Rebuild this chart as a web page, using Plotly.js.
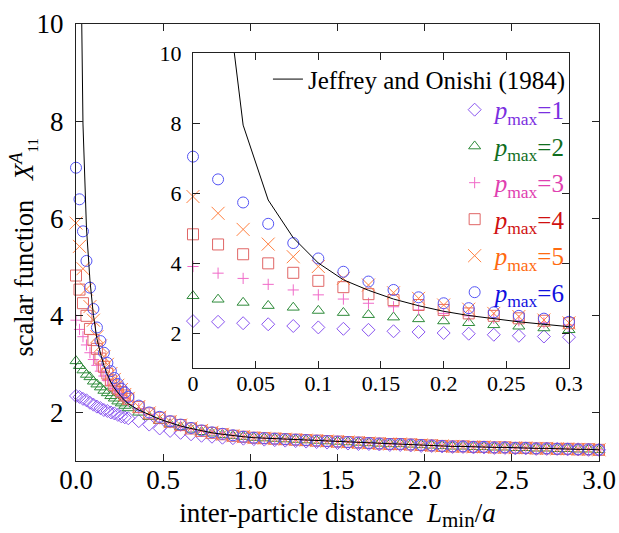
<!DOCTYPE html>
<html>
<head>
<meta charset="utf-8">
<script src="https://cdn.plot.ly/plotly-3.0.1.min.js"></script>
<style>
html,body{margin:0;padding:0;background:#fff;}
#chart{width:619px;height:533px;}
#chart svg text{font-family:"Liberation Serif","Times New Roman",serif !important;}
</style>
</head>
<body>
<div id="chart"></div>
<script>
// x positions (L_min / a)
const xDense = [0, 0.02, 0.04, 0.06, 0.08, 0.10, 0.12, 0.14, 0.16, 0.18, 0.20, 0.22, 0.24, 0.26, 0.28, 0.30];
const xWide = [0.36, 0.42, 0.48, 0.54, 0.60, 0.66, 0.72, 0.78, 0.84, 0.90, 0.96, 1.02, 1.08, 1.14, 1.20,
  1.26, 1.32, 1.38, 1.44, 1.50, 1.56, 1.62, 1.68, 1.74, 1.80, 1.86, 1.92, 1.98, 2.04, 2.10,
  2.16, 2.22, 2.28, 2.34, 2.40, 2.46, 2.52, 2.58, 2.64, 2.70, 2.76, 2.82, 2.88, 2.94, 3.00];

// scalar function X^A_11 for each p_max (dense part 0..0.3)
const p1Dense = [2.34, 2.32, 2.28, 2.25, 2.20, 2.16, 2.12, 2.09, 2.05, 2.03, 2.00, 1.98, 1.95, 1.92, 1.90, 1.88];
const p2Dense = [3.06, 2.96, 2.87, 2.78, 2.73, 2.64, 2.58, 2.52, 2.45, 2.40, 2.34, 2.29, 2.23, 2.19, 2.14, 2.09];
const p3Dense = [3.90, 3.71, 3.56, 3.39, 3.23, 3.09, 2.97, 2.85, 2.75, 2.66, 2.56, 2.49, 2.42, 2.35, 2.29, 2.23];
const p4Dense = [4.82, 4.53, 4.25, 3.99, 3.72, 3.49, 3.31, 3.11, 2.94, 2.80, 2.66, 2.56, 2.49, 2.42, 2.35, 2.28];
const p5Dense = [5.90, 5.42, 4.96, 4.54, 4.18, 3.90, 3.56, 3.37, 3.15, 2.99, 2.80, 2.68, 2.56, 2.47, 2.37, 2.29];
const p6Dense = [7.04, 6.39, 5.73, 5.12, 4.57, 4.13, 3.75, 3.47, 3.23, 3.02, 2.85, 2.71, 2.59, 2.49, 2.41, 2.32];

// wide part 0.36..3.0
const p1Wide = [1.82, 1.75, 1.67, 1.62, 1.58, 1.55, 1.52, 1.50, 1.48, 1.47, 1.46, 1.45, 1.44, 1.43, 1.42,
  1.41, 1.40, 1.39, 1.38, 1.37, 1.36, 1.35, 1.35, 1.34, 1.33, 1.33, 1.32, 1.31, 1.31, 1.30,
  1.29, 1.29, 1.28, 1.28, 1.27, 1.27, 1.26, 1.26, 1.25, 1.25, 1.25, 1.24, 1.24, 1.23, 1.23];
const p2Wide = [2.00, 1.91, 1.83, 1.76, 1.70, 1.65, 1.60, 1.57, 1.54, 1.52, 1.50, 1.48, 1.47, 1.46, 1.45,
  1.44, 1.43, 1.42, 1.41, 1.40, 1.39, 1.38, 1.37, 1.36, 1.35, 1.35, 1.34, 1.33, 1.32, 1.31,
  1.30, 1.30, 1.29, 1.29, 1.28, 1.28, 1.27, 1.27, 1.26, 1.26, 1.25, 1.25, 1.24, 1.24, 1.23];
const p3Wide = [2.08, 1.96, 1.87, 1.79, 1.72, 1.66, 1.62, 1.58, 1.55, 1.52, 1.50, 1.48, 1.47, 1.46, 1.45,
  1.44, 1.43, 1.42, 1.41, 1.40, 1.39, 1.38, 1.37, 1.36, 1.35, 1.35, 1.34, 1.33, 1.32, 1.31,
  1.30, 1.30, 1.29, 1.29, 1.28, 1.28, 1.27, 1.27, 1.26, 1.26, 1.25, 1.25, 1.24, 1.24, 1.23];
const p4Wide = [2.11, 1.98, 1.89, 1.81, 1.74, 1.67, 1.62, 1.58, 1.55, 1.52, 1.50, 1.48, 1.47, 1.46, 1.45,
  1.44, 1.43, 1.42, 1.41, 1.40, 1.39, 1.38, 1.37, 1.36, 1.35, 1.35, 1.34, 1.33, 1.32, 1.31,
  1.30, 1.30, 1.29, 1.29, 1.28, 1.28, 1.27, 1.27, 1.26, 1.26, 1.25, 1.25, 1.24, 1.24, 1.23];
const p5Wide = [2.12, 1.99, 1.90, 1.81, 1.74, 1.68, 1.63, 1.59, 1.55, 1.52, 1.50, 1.48, 1.47, 1.46, 1.45,
  1.44, 1.43, 1.42, 1.41, 1.40, 1.39, 1.38, 1.37, 1.36, 1.35, 1.35, 1.34, 1.33, 1.32, 1.31,
  1.30, 1.30, 1.29, 1.29, 1.28, 1.28, 1.27, 1.27, 1.26, 1.26, 1.25, 1.25, 1.24, 1.24, 1.23];
const p6Wide = [2.14, 2.00, 1.91, 1.82, 1.75, 1.68, 1.63, 1.59, 1.56, 1.53, 1.50, 1.48, 1.47, 1.46, 1.45,
  1.44, 1.43, 1.42, 1.41, 1.40, 1.39, 1.38, 1.37, 1.36, 1.35, 1.35, 1.34, 1.33, 1.32, 1.31,
  1.30, 1.30, 1.29, 1.29, 1.28, 1.28, 1.27, 1.27, 1.26, 1.26, 1.25, 1.25, 1.24, 1.24, 1.23];

// Jeffrey and Onishi (1984)
const xJO = [0.02, 0.04, 0.06, 0.08, 0.10, 0.12, 0.14, 0.16, 0.18, 0.20, 0.22, 0.24, 0.26, 0.28, 0.30];
const yJO = [13.8, 7.94, 5.80, 4.72, 4.00, 3.52, 3.22, 2.97, 2.78, 2.62, 2.50, 2.40, 2.32, 2.25, 2.18];
const yJOWide = [2.05, 1.95, 1.86, 1.79, 1.72, 1.67, 1.62, 1.58, 1.55, 1.52, 1.50, 1.48, 1.47, 1.46, 1.45,
  1.44, 1.43, 1.42, 1.41, 1.40, 1.39, 1.38, 1.37, 1.36, 1.35, 1.35, 1.34, 1.33, 1.32, 1.31,
  1.30, 1.30, 1.29, 1.29, 1.28, 1.28, 1.27, 1.27, 1.26, 1.26, 1.25, 1.25, 1.24, 1.24, 1.23];

// tick labels
const mainXTicks = [0, 0.5, 1, 1.5, 2, 2.5, 3];
const mainXText = ['0.0', '0.5', '1.0', '1.5', '2.0', '2.5', '3.0'];
const yTicks = [2, 4, 6, 8, 10];
const yText = ['2', '4', '6', '8', '10'];
const insetXTicks = [0, 0.05, 0.1, 0.15, 0.2, 0.25, 0.3];
const insetXText = ['0', '0.05', '0.1', '0.15', '0.2', '0.25', '0.3'];

const seriesNames = ['1', '2', '3', '4', '5', '6'];
const markerColors = ['#8a55f0', '#2e8b3a', '#f06ac8', '#e06666', '#ff8040', '#5555f5'];
const textColors = ['#7b2fe0', '#0f6e1e', '#e040b0', '#d01010', '#ff6a10', '#1010e0'];
const symbols = ['diamond-open', 'triangle-up-open', 'cross-thin-open', 'square-open', 'x-thin-open', 'circle-open'];
const sizes = [10, 10.5, 8, 11, 13, 11];
const dense = [p1Dense, p2Dense, p3Dense, p4Dense, p5Dense, p6Dense];
const wide = [p1Wide, p2Wide, p3Wide, p4Wide, p5Wide, p6Wide];

const FAM = 'Liberation Serif, Times New Roman, serif';
const traces = [];
for (let i = 0; i < 6; i++) {
  const mk = {symbol: symbols[i], size: sizes[i], color: markerColors[i], line: {color: markerColors[i], width: 1}};
  traces.push({
    type: 'scatter', mode: 'markers', x: xDense.concat(xWide), y: dense[i].concat(wide[i]),
    xaxis: 'x', yaxis: 'y', marker: mk, showlegend: false, cliponaxis: false, hoverinfo: 'skip'
  });
}
traces.push({type: 'scatter', mode: 'lines', x: xJO.concat(xWide), y: yJO.concat(yJOWide),
  xaxis: 'x', yaxis: 'y', line: {color: '#000', width: 1}, showlegend: false, hoverinfo: 'skip'});
for (let i = 0; i < 6; i++) {
  const mk = {symbol: symbols[i], size: sizes[i], color: markerColors[i], line: {color: markerColors[i], width: 1}};
  traces.push({
    type: 'scatter', mode: 'markers', x: xDense, y: dense[i], xaxis: 'x2', yaxis: 'y2', marker: mk,
    name: '<span style="color:' + textColors[i] + '"><i>p</i><sub>max</sub>=' + seriesNames[i] + '</span>',
    legend: 'legend2', legendgroup: 'g' + i, cliponaxis: false, hoverinfo: 'skip'
  });
}
traces.push({type: 'scatter', mode: 'lines', x: xJO, y: yJO, xaxis: 'x2', yaxis: 'y2',
  line: {color: '#000', width: 1}, name: 'Jeffrey and Onishi (1984)', legend: 'legend', hoverinfo: 'skip'});

function axis(extra, fontSize) {
  return Object.assign({
    showline: true, linecolor: '#222', linewidth: 1, mirror: 'ticks', ticks: 'inside', ticklen: 7,
    tickcolor: '#222', showgrid: false, zeroline: false,
    tickfont: {family: FAM, size: fontSize, color: '#000'}
  }, extra);
}
const layout = {
  width: 619, height: 533,
  margin: {l: 76, r: 20, t: 24, b: 72},
  paper_bgcolor: '#fff', plot_bgcolor: '#fff',
  font: {family: FAM, color: '#000', size: 24},
  xaxis: axis({
    range: [0, 3], tickvals: mainXTicks, ticktext: mainXText, ticklabelstandoff: -5,
    title: {text: 'inter-particle distance  <i>L</i><sub><span style="font-size:21px">min</span></sub>/<i>a</i>',
      font: {family: FAM, size: 27, color: '#000'}, standoff: 8}
  }, 27),
  yaxis: axis({
    range: [1, 10], tickvals: yTicks, ticktext: yText, ticklabelstandoff: 6
  }, 27),
  xaxis2: axis({
    domain: [0.2237, 0.9426], anchor: 'y2', range: [0, 0.3],
    tickvals: insetXTicks, ticktext: insetXText, ticklabelstandoff: -4
  }, 22),
  yaxis2: axis({
    domain: [0.2128, 0.9336], anchor: 'x2', range: [1, 10], tickvals: yTicks, ticktext: yText,
    ticklabelstandoff: 6
  }, 22),
  annotations: [{
    xref: 'paper', yref: 'paper', x: -0.1013, y: 0.4886, xanchor: 'center', yanchor: 'middle',
    textangle: -90, showarrow: false,
    text: 'scalar function&nbsp;&nbsp; <i>X</i><sup><i>A</i></sup><sub><span style="font-size:15px">11</span></sub>',
    font: {family: FAM, size: 26.5, color: '#000'}
  }],
  legend: {x: 0.367, y: 0.926, xanchor: 'left', yanchor: 'top', bgcolor: 'rgba(0,0,0,0)', borderwidth: 0,
    font: {family: FAM, size: 25, color: '#000'}},
  legend2: {x: 0.724, y: 0.856, xanchor: 'left', yanchor: 'top', bgcolor: 'rgba(0,0,0,0)', borderwidth: 0,
    tracegroupgap: 1, font: {family: FAM, size: 25, color: '#000'}}
};
Plotly.newPlot('chart', traces, layout, {displayModeBar: false, staticPlot: true});
</script>
</body>
</html>
